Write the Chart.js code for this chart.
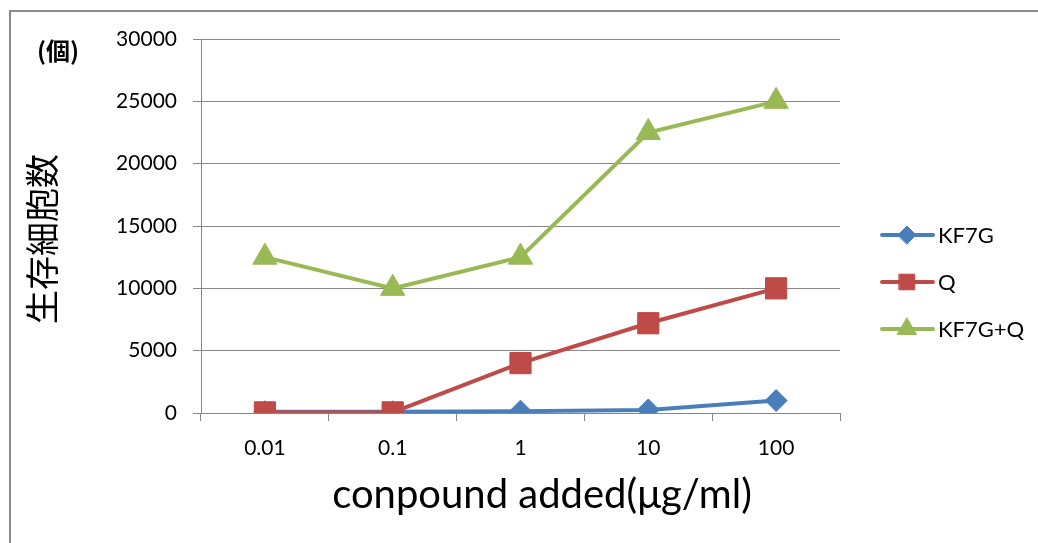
<!DOCTYPE html>
<html>
<head>
<meta charset="utf-8">
<script src="https://cdn.jsdelivr.net/npm/chart.js@4"></script>
<style>
  html, body { margin: 0; padding: 0; background: #fff; overflow: hidden; }
  #wrap { position: relative; width: 1038px; height: 543px; }
  #frame { position: absolute; left: 9px; top: 10px; width: 1100px; height: 600px;
           border-left: 2px solid #8a8a8a; border-top: 2px solid #8a8a8a; pointer-events: none; }
  canvas { position: absolute; left: 0; top: 0; }
</style>
</head>
<body>
<div id="wrap">
  <canvas id="c" width="1038" height="543"></canvas>
  <div id="frame"></div>
</div>
<script>
// Concentrations on the x axis
const categories = ['0.01', '0.1', '1', '10', '100'];
// Surviving cell counts per treatment
const kf7g = [100, 100, 150, 250, 1000];
const q = [50, 50, 4000, 7200, 10000];
const kf7gQ = [12500, 10000, 12500, 22500, 25000];
// Y axis range
const yTicks = [0, 5000, 10000, 15000, 20000, 25000, 30000];

const BLUE = '#4a7ebb', RED = '#be4b48', GREEN = '#98b954';
const LATIN = 'Lato, "Open Sans", sans-serif';
const CJK = '"Noto Sans CJK JP", sans-serif';

// Legend (line sample + marker) at the right, plus axis titles and the unit
const sideLegend = {
  id: 'sideLegend',
  afterDraw(chart) {
    const ctx = chart.ctx;
    const rows = [235, 282, 329];
    ctx.save();
    chart.data.datasets.forEach((d, i) => {
      const y = rows[i];
      ctx.strokeStyle = d.borderColor;
      ctx.lineWidth = 4;
      ctx.lineCap = 'round';
      ctx.beginPath();
      ctx.moveTo(882, y);
      ctx.lineTo(933, y);
      ctx.stroke();
      ctx.fillStyle = d.backgroundColor;
      ctx.strokeStyle = d.borderColor;
      ctx.lineWidth = 1;
      Chart.helpers.drawPoint(ctx, { pointStyle: d.pointStyle, radius: d.legendRadius, borderWidth: 1 }, 907, y);
      ctx.fillStyle = '#000';
      ctx.font = '22px ' + LATIN;
      ctx.textBaseline = 'middle';
      ctx.textAlign = 'left';
      ctx.fillText(d.label, 938, y + 1);
    });
    ctx.fillStyle = '#000';
    ctx.textAlign = 'center';
    ctx.textBaseline = 'middle';

    ctx.font = 'bold 24px ' + CJK;
    ctx.fillText('(個)', 58, 51);

    ctx.font = '40px ' + LATIN;
    ctx.fillText('conpound added(μg/ml)', 542, 495);

    ctx.translate(42, 239);
    ctx.rotate(-Math.PI / 2);
    ctx.font = '34px ' + CJK;
    ctx.fillText('生存細胞数', 0, 0);
    ctx.restore();
  }
};

new Chart(document.getElementById('c'), {
  type: 'line',
  data: {
    labels: categories,
    datasets: [
      { label: 'KF7G', data: kf7g, borderColor: BLUE, backgroundColor: BLUE,
        borderWidth: 4, pointStyle: 'rectRot', pointRadius: 11, pointHoverRadius: 11,
        pointBorderWidth: 1, legendRadius: 9, order: 3 },
      { label: 'Q', data: q, borderColor: RED, backgroundColor: RED,
        borderWidth: 4, pointStyle: 'rect', pointRadius: 15, pointHoverRadius: 15,
        pointBorderWidth: 1, legendRadius: 11, order: 2 },
      { label: 'KF7G+Q', data: kf7gQ, borderColor: GREEN, backgroundColor: GREEN,
        borderWidth: 4, pointStyle: 'triangle', pointRadius: 14, pointHoverRadius: 14,
        pointBorderWidth: 1, legendRadius: 11, order: 1 }
    ]
  },
  options: {
    responsive: false,
    animation: false,
    layout: { padding: { left: 0, right: 198, top: 39, bottom: 0 } },
    plugins: { legend: { display: false }, tooltip: { enabled: false } },
    elements: { line: { tension: 0 } },
    scales: {
      x: {
        offset: true,
        afterFit(s) { s.height = 130; },
        grid: { offset: true, drawOnChartArea: false, drawTicks: true, tickLength: 8, color: '#868686' },
        border: { color: '#868686', width: 1 },
        ticks: { color: '#000', font: { family: LATIN, size: 21 }, padding: 15, maxRotation: 0 }
      },
      y: {
        min: 0, max: 30000,
        afterFit(s) { s.width = 201; },
        afterBuildTicks(s) { s.ticks = yTicks.map(v => ({ value: v })); },
        grid: { color: '#868686', tickLength: 8, lineWidth: 1 },
        border: { color: '#868686', width: 1 },
        ticks: { color: '#000', font: { family: LATIN, size: 21 }, padding: 16,
                 callback: v => String(v) }
      }
    }
  },
  plugins: [sideLegend]
});
</script>
</body>
</html>
